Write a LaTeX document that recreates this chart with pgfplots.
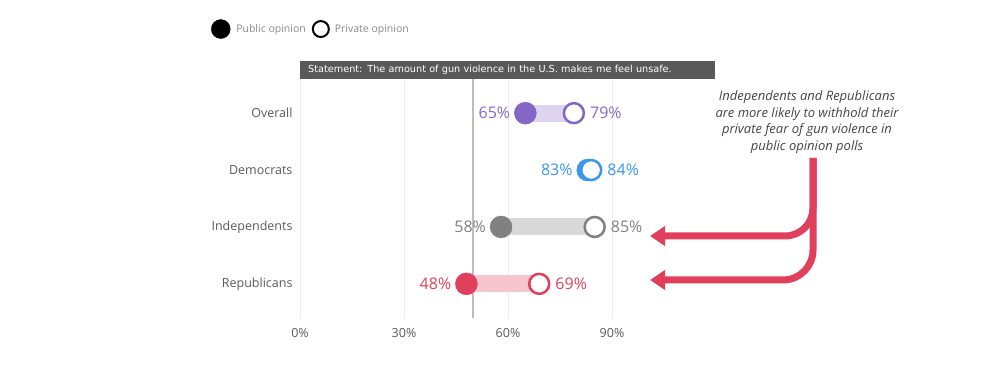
\documentclass[border=0pt]{standalone}
\usepackage{pgfplots}
\pgfplotsset{compat=1.18}
\usepackage{fontspec}
\setmainfont{Open Sans}
\newfontfamily\dejavu{DejaVu Sans}
\usetikzlibrary{arrows.meta}
\definecolor{cP}{HTML}{8466C6}
\definecolor{bP}{HTML}{DDD4EF}
\definecolor{cB}{HTML}{3A97EA}
\definecolor{bB}{HTML}{CFE4F8}
\definecolor{cG}{HTML}{808080}
\definecolor{bG}{HTML}{D9D9D9}
\definecolor{cR}{HTML}{E0405B}
\definecolor{bR}{HTML}{F5C6CE}
\definecolor{gridc}{HTML}{EDEDED}
\definecolor{labc}{HTML}{595959}
\definecolor{legc}{HTML}{8A8A8A}
\definecolor{hdr}{HTML}{595959}
\definecolor{annc}{HTML}{444444}
\definecolor{refl}{HTML}{BDBDBD}
\pgfplotsset{
  pubmark/.style={only marks, mark=*, mark size=11pt, forget plot,
    point meta=explicit symbolic, nodes near coords,
    nodes near coords style={anchor=east, inner sep=0pt, xshift=-15pt, yshift=0pt,
      font=\fontsize{16}{18}\selectfont, text=#1},
    color=#1},
  primark/.style={only marks, mark=*, mark size=10pt, forget plot,
    mark options={fill=white, draw=#1, line width=2.5pt},
    point meta=explicit symbolic, nodes near coords,
    nodes near coords style={anchor=west, inner sep=0pt, xshift=15pt,
      font=\fontsize{16}{18}\selectfont, text=#1},
    color=#1},
  barline/.style={line width=17pt, line cap=butt, forget plot, color=#1},
}
\begin{document}
\begin{tikzpicture}[x=1pt,y=1pt]
\useasboundingbox (0,0) rectangle (1000,369);
\begin{axis}[
  at={(300pt,51pt)}, anchor=south west,
  scale only axis, width=416pt, height=239pt,
  xmin=0, xmax=120, ymin=-0.6, ymax=3.6, y dir=reverse,
  xtick={0,30,60,90}, xticklabels={0\%,30\%,60\%,90\%},
  ytick={0,1,2,3}, yticklabels={Overall,Democrats,Independents,Republicans},
  axis line style={draw=none}, major tick length=0pt,
  xmajorgrids, grid style={color=gridc, line width=0.8pt},
  ticklabel style={font=\fontsize{12.5}{14}\selectfont, text=labc},
  xticklabel style={yshift=-7pt},
  yticklabel style={xshift=-4pt},
  clip=false,
  legend style={at={(axis description cs:-0.221,1.209)}, anchor=west,
    legend columns=2, draw=none, fill=none,
    font=\fontsize{10.5}{12}\selectfont, text=legc,
    /tikz/every even column/.append style={column sep=5pt},
    /tikz/every odd column/.append style={column sep=4pt}},
]
\addlegendimage{only marks, mark=*, black, mark size=9.5pt}
\addlegendentry{Public opinion}
\addlegendimage{only marks, mark=*, mark options={fill=white, draw=black, line width=2pt}, mark size=8pt}
\addlegendentry{Private opinion}
% 50% reference line
\addplot[refl, line width=2pt, forget plot] coordinates {(50,-0.6) (50,3.6)};
% Overall
\addplot[barline=bP] coordinates {(65,0) (79,0)};
\addplot[pubmark=cP] coordinates {(65,0) [65\%]};
\addplot[primark=cP] coordinates {(79,0) [79\%]};
% Democrats
\addplot[barline=bB] coordinates {(83,1) (84,1)};
\addplot[pubmark=cB] coordinates {(83,1) [83\%]};
\addplot[primark=cB] coordinates {(84,1) [84\%]};
% Independents
\addplot[barline=bG] coordinates {(58,2) (85,2)};
\addplot[pubmark=cG] coordinates {(58,2) [58\%]};
\addplot[primark=cG] coordinates {(85,2) [85\%]};
% Republicans
\addplot[barline=bR] coordinates {(48,3) (69,3)};
\addplot[pubmark=cR] coordinates {(48,3) [48\%]};
\addplot[primark=cR] coordinates {(69,3) [69\%]};
% header
\node[fill=hdr, text=white, anchor=south west, inner xsep=8pt, inner ysep=0pt,
  text width=399pt, minimum height=18pt, align=left,
  font=\dejavu\fontsize{9.7}{10}\selectfont] at (axis description cs:0,1)
  {Statement: The amount of gun violence in the U.S. makes me feel unsafe.};
\end{axis}
% annotation
\node[align=center, text=annc, font=\itshape\fontsize{13}{16.7}\selectfont] at (807,247)
  {Independents and Republicans\\are more likely to withhold their\\private fear of gun violence in\\public opinion polls};
\draw[cR, line width=7pt, rounded corners=30pt, -{Triangle[length=15pt,width=19pt]}]
  (813,211) -- (813,89) -- (650,89);
\draw[cR, line width=7pt, rounded corners=28pt, -{Triangle[length=15pt,width=19pt]}]
  (813,211) -- (813,133) -- (650,133);
\end{tikzpicture}
\end{document}
